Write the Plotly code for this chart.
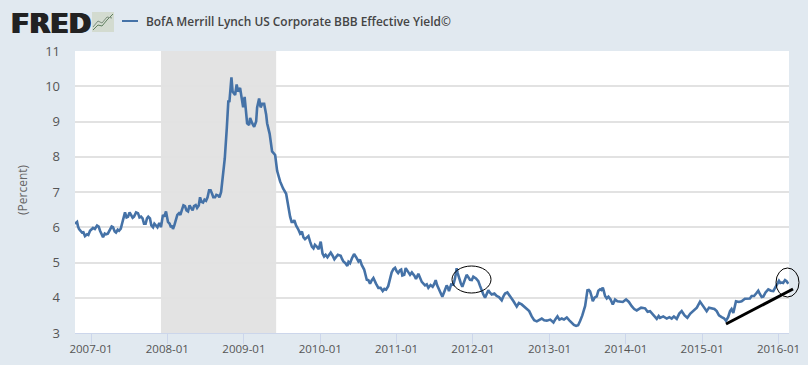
import datetime as dt
import plotly.graph_objects as go

# Time position as fractional years
year_pos = [
 2006.79,2006.817,2006.843,2006.882,2006.921,2006.948,2006.987,2007.026,2007.079,2007.118,2007.157,2007.196,
 2007.249,2007.288,2007.327,2007.367,2007.406,2007.445,2007.484,2007.524,2007.563,2007.615,2007.655,2007.694,
 2007.733,2007.772,2007.812,2007.851,2007.89,2007.916,2007.942,2007.982,2008.008,2008.047,2008.073,2008.113,
 2008.152,2008.191,2008.23,2008.27,2008.309,2008.348,2008.388,2008.427,2008.466,2008.505,2008.545,2008.584,
 2008.623,2008.663,2008.702,2008.724,2008.75,2008.776,2008.797,2008.81,2008.837,2008.852,2008.872,2008.885,
 2008.905,2008.924,2008.95,2008.97,2008.99,2009.009,2009.029,2009.042,2009.068,2009.081,2009.108,2009.134,
 2009.16,2009.173,2009.199,2009.219,2009.238,2009.265,2009.291,2009.304,2009.337,2009.369,2009.409,2009.435,
 2009.474,2009.513,2009.553,2009.579,2009.605,2009.644,2009.683,2009.736,2009.78,2009.823,2009.867,2009.911,
 2009.954,2010.006,2010.05,2010.094,2010.137,2010.185,2010.268,2010.303,2010.355,2010.39,2010.443,2010.5,
 2010.543,2010.609,2010.652,2010.696,2010.761,2010.818,2010.862,2010.914,2010.958,2011.001,2011.045,2011.075,
 2011.119,2011.176,2011.219,2011.254,2011.285,2011.372,2011.416,2011.472,2011.512,2011.547,2011.599,2011.656,
 2011.686,2011.743,2011.787,2011.821,2011.861,2011.917,2011.961,2012.005,2012.07,2012.114,2012.158,2012.201,
 2012.245,2012.31,2012.376,2012.419,2012.485,2012.572,2012.637,2012.703,2012.768,2012.834,2012.899,2012.965,
 2013.052,2013.104,2013.161,2013.227,2013.292,2013.349,2013.401,2013.467,2013.497,2013.532,2013.567,2013.619,
 2013.663,2013.698,2013.728,2013.772,2013.829,2013.859,2013.925,2014.003,2014.077,2014.143,2014.252,2014.317,
 2014.405,2014.448,2014.536,2014.601,2014.667,2014.732,2014.806,2014.885,2014.972,2015.059,2015.125,2015.19,
 2015.255,2015.312,2015.365,2015.408,2015.443,2015.517,2015.604,2015.648,2015.714,2015.757,2015.801,2015.866,
 2015.932,2015.975,2016.006,2016.041,2016.085,2016.128,
]
yield_pct = [
 6.1,6.15,5.95,5.85,5.75,5.8,5.9,5.98,6.05,5.9,5.72,5.8,
 5.95,6.0,5.85,5.9,6.1,6.42,6.3,6.35,6.3,6.4,6.3,6.1,
 6.25,6.25,6.0,6.05,6.1,6.0,6.35,6.45,6.15,6.0,5.95,6.2,
 6.4,6.5,6.6,6.45,6.55,6.6,6.55,6.85,6.7,6.75,7.05,6.95,
 6.85,6.9,7.0,7.4,7.95,8.8,9.6,9.55,10.25,9.85,9.8,9.75,
 10.05,9.85,9.95,9.6,9.4,9.7,9.2,8.95,8.9,9.1,8.95,8.85,
 9.0,9.4,9.65,9.4,9.5,9.5,9.2,8.95,8.65,8.15,8.05,7.6,
 7.3,7.1,6.95,6.6,6.3,6.15,6.05,5.82,5.71,5.71,5.59,5.4,
 5.45,5.59,5.17,5.15,5.28,5.09,5.19,5.03,4.9,4.98,5.24,5.03,
 4.93,4.51,4.4,4.56,4.28,4.19,4.23,4.51,4.81,4.75,4.78,4.63,
 4.84,4.65,4.68,4.53,4.68,4.35,4.28,4.31,4.5,4.28,4.03,4.35,
 4.19,4.37,4.84,4.53,4.31,4.65,4.51,4.6,4.47,4.19,4.0,4.21,
 4.09,4.05,3.93,4.12,4.05,3.75,3.81,3.67,3.47,3.33,3.41,3.35,
 3.3,3.47,3.41,3.44,3.28,3.2,3.34,3.77,4.21,4.18,3.9,4.04,
 4.24,4.29,4.05,4.03,3.81,3.95,3.9,3.95,3.76,3.64,3.7,3.62,
 3.4,3.43,3.41,3.41,3.4,3.62,3.43,3.62,3.89,3.62,3.71,3.62,
 3.45,3.35,3.62,3.57,3.9,3.9,3.97,4.05,4.14,4.1,4.03,4.24,
 4.19,4.38,4.48,4.43,4.5,4.4,
]
# Further readings between those above, for the day-to-day jitter
extra_year_pos = [
 2006.83,2006.90,2006.965,2007.05,2007.10,2007.14,2007.18,2007.22,2007.27,2007.31,2007.35,2007.39,2007.43,2007.465,
 2007.505,2007.545,2007.59,2007.635,2007.675,2007.715,2007.75,2007.79,2007.83,2007.87,2007.905,2007.93,2007.96,2007.995,
 2008.03,2008.06,2008.09,2008.13,2008.17,2008.21,2008.25,2008.29,2008.33,2008.37,2008.41,2008.445,2008.485,2008.525,
 2008.565,2008.60,2008.64,2008.68,2009.625,2009.66,2009.71,2009.76,2009.80,2009.845,2009.89,2009.93,2009.98,2010.03,
 2010.07,2010.115,2010.16,2010.23,2010.285,2010.33,2010.37,2010.415,2010.47,2010.52,2010.575,2010.63,2010.675,2010.73,
 2010.79,2010.84,2010.89,2010.935,2010.98,2011.02,2011.06,2011.10,2011.15,2011.20,2011.235,2011.27,2011.33,2011.395,
 2011.445,2011.49,2011.53,2011.575,2011.63,2011.67,2011.715,2011.765,2011.80,2011.84,2011.89,2011.94,2011.985,2012.04,
 2012.09,2012.135,2012.18,2012.22,2012.28,2012.34,2012.40,2012.45,2012.53,2012.60,2012.67,2012.735,2012.80,2012.865,
 2012.93,2013.01,2013.08,2013.13,2013.19,2013.26,2013.32,2013.375,2013.43,2013.48,2013.515,2013.55,2013.59,2013.64,
 2013.68,2013.71,2013.75,2013.80,2013.845,2013.89,2013.96,2014.04,2014.11,2014.20,2014.285,2014.36,2014.43,2014.49,
 2014.57,2014.63,2014.70,2014.77,2014.845,2014.93,2015.02,2015.09,2015.16,2015.22,2015.285,2015.34,2015.385,2015.425,
 2015.48,2015.56,2015.625,2015.68,2015.735,2015.78,2015.83,2015.90,2015.955,2015.99,2016.025,2016.06,2016.105,
]
extra_yield_pct = [
 6.02,5.86,5.78,5.95,6.02,5.78,5.82,5.82,6.02,5.88,5.93,5.96,6.28,6.28,
 6.42,6.27,6.42,6.28,6.25,6.1,6.3,6.05,6.1,6.0,6.1,6.15,6.3,6.3,
 6.1,6.05,6.05,6.35,6.35,6.62,6.48,6.62,6.48,6.63,6.62,6.72,6.78,6.85,
 7.05,6.85,6.92,6.85,6.15,6.2,5.95,5.88,5.66,5.75,5.45,5.5,5.38,5.25,
 5.22,5.2,5.2,5.22,5.1,4.98,5.02,5.12,5.15,5.08,4.8,4.5,4.5,4.4,
 4.28,4.25,4.33,4.72,4.85,4.7,4.8,4.65,4.75,4.72,4.62,4.6,4.45,4.38,
 4.36,4.38,4.36,4.18,4.2,4.3,4.38,4.55,4.7,4.42,4.5,4.58,4.5,4.55,
 4.35,4.1,4.1,4.15,4.12,4.02,4.05,4.15,3.9,3.85,3.75,3.62,3.36,3.38,
 3.36,3.38,3.4,3.38,3.38,3.36,3.23,3.22,3.5,3.95,4.22,4.05,4.0,4.2,
 4.22,4.2,3.98,3.95,3.88,3.9,3.88,3.88,3.68,3.72,3.6,3.52,3.48,3.47,
 3.45,3.47,3.55,3.5,3.55,3.72,3.72,3.72,3.68,3.5,3.42,3.45,3.68,3.75,
 3.88,3.97,3.98,4.05,4.2,4.02,4.15,4.2,4.28,4.42,4.42,4.42,4.47,
]
recession_years = [2007.916, 2009.422]
y_ticks = [3, 4, 5, 6, 7, 8, 9, 10, 11]
x_tick_years = [2007, 2008, 2009, 2010, 2011, 2012, 2013, 2014, 2015, 2016]
x_tick_labels = ["2007-01","2008-01","2009-01","2010-01","2011-01","2012-01","2013-01","2014-01","2015-01","2016-01"]
series_name = "BofA Merrill Lynch US Corporate BBB Effective Yield©"
y_title = "(Percent)"
x_range = [2006.79, 2016.137]

def to_date(y):
    base = int(y)
    start = dt.datetime(base, 1, 1)
    span = dt.datetime(base + 1, 1, 1) - start
    return (start + span * (y - base)).strftime("%Y-%m-%d %H:%M")

W, H = 808, 365
L, R, T, B = 75, 789, 51, 333
def fx(x): return (x - L) / (R - L)
def fy(y): return (B - y) / (B - T)

BG = "#e1e9f0"
BLUE = "#4572a7"
FONT = "Open Sans"

points = sorted(zip(year_pos + extra_year_pos, yield_pct + extra_yield_pct))
fig = go.Figure(go.Scatter(
    x=[to_date(p[0]) for p in points], y=[p[1] for p in points], mode="lines",
    line=dict(color=BLUE, width=2.6), showlegend=False, hoverinfo="skip"))

shapes = [
    dict(type="rect", xref="x", yref="paper", x0=to_date(recession_years[0]), x1=to_date(recession_years[1]),
         y0=0, y1=1, fillcolor="#e3e3e3", line_width=0, layer="below"),
    dict(type="line", xref="paper", yref="paper", x0=fx(726), x1=fx(793), y0=fy(324), y1=fy(289),
         line=dict(color="#000", width=3)),
    dict(type="circle", xref="paper", yref="paper", x0=fx(776), x1=fx(799), y0=fy(297), y1=fy(268),
         line=dict(color="#000", width=1)),
    dict(type="circle", xref="paper", yref="paper", x0=fx(452), x1=fx(491), y0=fy(293), y1=fy(266),
         line=dict(color="#000", width=1)),
    dict(type="line", xref="paper", yref="paper", x0=fx(122), x1=fx(138), y0=fy(21), y1=fy(21),
         line=dict(color=BLUE, width=2)),
    dict(type="rect", xref="paper", yref="paper", x0=fx(92), x1=fx(114), y0=fy(32), y1=fy(12),
         fillcolor="#d3dbd0", line_width=0),
    dict(type="path", xref="paper", yref="paper",
         path=f"M {fx(93)} {fy(30)} L {fx(98)} {fy(25)} L {fx(102)} {fy(26)} L {fx(107)} {fy(20)} L {fx(113)} {fy(14)}",
         line=dict(color="#5f7f5f", width=1)),
    dict(type="path", xref="paper", yref="paper",
         path=f"M {fx(93)} {fy(27)} L {fx(98)} {fy(21)} L {fx(102)} {fy(23)} L {fx(107)} {fy(17)} L {fx(112)} {fy(18)}",
         line=dict(color="#7d8f7d", width=1)),
]

annotations = [
    dict(text="<b>FRED</b>", xref="paper", yref="paper", x=fx(9), y=fy(23), xanchor="left", yanchor="middle",
         showarrow=False, font=dict(family="DejaVu Sans", size=27, color="#222", shadow="1px 0 0 #222, -1px 0 0 #222")),
    dict(text=series_name, xref="paper", yref="paper", x=fx(144), y=fy(21), xanchor="left", yanchor="middle",
         showarrow=False, font=dict(family=FONT, size=11.9, color="#444", weight=600)),
    dict(text=y_title, xref="paper", yref="paper", x=fx(22), y=fy(190), xanchor="center", yanchor="middle",
         textangle=-90, showarrow=False, font=dict(family=FONT, size=12, color="#666")),
]

fig.update_layout(
    width=W, height=H, autosize=False,
    margin=dict(l=L, r=W - R, t=T, b=H - B, pad=0, autoexpand=False),
    paper_bgcolor=BG, plot_bgcolor="#fff", shapes=shapes, annotations=annotations,
    xaxis=dict(range=[to_date(x_range[0]), to_date(x_range[1])], type="date",
               tickvals=[to_date(v) for v in x_tick_years], ticktext=x_tick_labels,
               ticks="outside", ticklen=10, tickcolor="#ccd6eb", linecolor="#ccd6eb", linewidth=1,
               ticklabelstandoff=-5,
               showgrid=False, tickfont=dict(family=FONT, size=11.5, color="#555"), zeroline=False),
    yaxis=dict(range=[3, 11], tickvals=y_ticks, gridcolor="#e2e2e2", gridwidth=1.5, zeroline=False,
               showline=False, ticks="", ticklabelstandoff=14,
               tickfont=dict(family=FONT, size=13, color="#555")),
)
fig.write_html("out.html", config=dict(displayModeBar=False),
               post_script="document.body.style.margin='0';")
